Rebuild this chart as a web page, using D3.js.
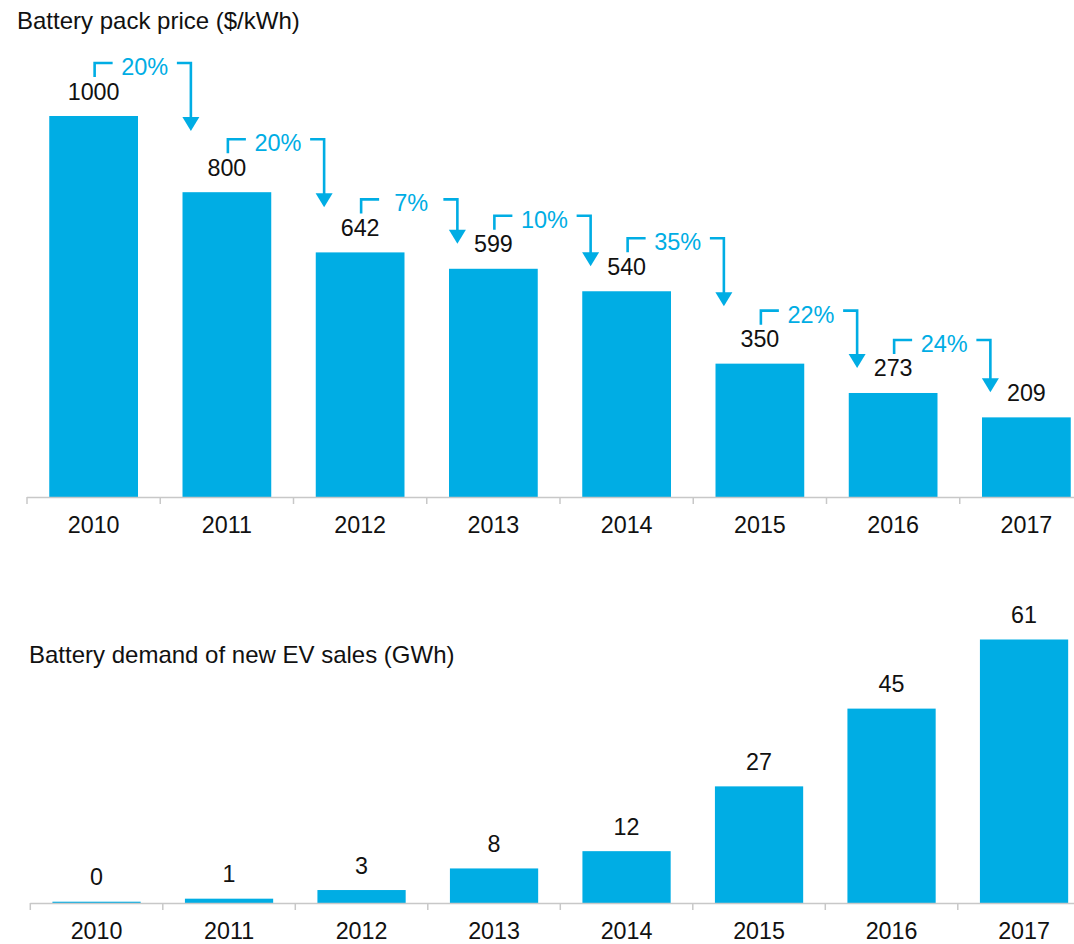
<!DOCTYPE html>
<html>
<head>
<meta charset="utf-8">
<script src="https://cdn.jsdelivr.net/npm/d3@7"></script>
<style>
  html, body { margin: 0; padding: 0; background: #fff; }
  svg { display: block; }
  text { font-family: "Liberation Sans", Arial, sans-serif; }
</style>
</head>
<body>
<svg id="chart" width="1074" height="944"></svg>
<script>
// ---- data ----
const years = ["2010", "2011", "2012", "2013", "2014", "2015", "2016", "2017"];
const packPrice = [1000, 800, 642, 599, 540, 350, 273, 209];
const priceDrop = ["20%", "20%", "7%", "10%", "35%", "22%", "24%"];
const evDemand = [0.3, 1, 3, 8, 12, 27, 45, 61];
const topTitle = "Battery pack price ($/kWh)";
const bottomTitle = "Battery demand of new EV sales (GWh)";

const BLUE = "#00ADE4";
const AXIS = "#C8C8C8";
const svg = d3.select("#chart");

function drawPanel(cfg) {
  const x = d3.scaleBand().domain(years).range(cfg.xr).paddingInner(0.334).paddingOuter(0.167);
  const y = d3.scaleLinear().domain(cfg.yd).range(cfg.yr);
  const g = svg.append("g");
  const base = cfg.yr[0];

  g.append("text").attr("x", cfg.titleX).attr("y", cfg.titleY)
    .attr("font-size", 24).attr("fill", "#111").text(cfg.title);

  g.selectAll("rect.bar").data(cfg.values).join("rect")
    .attr("class", "bar")
    .attr("x", (d, i) => x(years[i]))
    .attr("width", x.bandwidth())
    .attr("y", d => y(d))
    .attr("height", d => base - y(d))
    .attr("fill", BLUE);

  g.selectAll("text.val").data(cfg.values).join("text")
    .attr("class", "val")
    .attr("x", (d, i) => x(years[i]) + x.bandwidth() / 2)
    .attr("y", d => y(d) - 16.5)
    .attr("text-anchor", "middle")
    .attr("font-size", 23.3)
    .attr("fill", "#111")
    .text(d => d3.format(".0f")(d));

  // axis
  const gap = (x.step() - x.bandwidth()) / 2;
  const bounds = years.map(d => x(d) - gap).concat([x(years[years.length - 1]) + x.bandwidth() + gap]);
  g.append("line").attr("x1", bounds[0]).attr("x2", bounds[bounds.length - 1])
    .attr("y1", base + 0.5).attr("y2", base + 0.5).attr("stroke", AXIS).attr("stroke-width", 1.5);
  g.selectAll("line.tick").data(bounds).join("line")
    .attr("class", "tick")
    .attr("x1", d => d).attr("x2", d => d)
    .attr("y1", base).attr("y2", base + 7)
    .attr("stroke", AXIS).attr("stroke-width", 1.5);

  const ax = g.append("g").attr("transform", `translate(0,${base})`)
    .call(d3.axisBottom(x).tickSize(0).tickPadding(0));
  ax.select(".domain").remove();
  ax.selectAll("text").attr("font-size", 23.3).attr("fill", "#111")
    .attr("dy", null).attr("y", 36)
    .style("font-family", '"Liberation Sans", Arial, sans-serif');

  return { x, y };
}

// ---- top panel ----
const pricePanel = drawPanel({
  xr: [27, 1093], yd: [0, 1000], yr: [497, 116],
  values: packPrice, title: topTitle, titleX: 17, titleY: 29
});

// change brackets
const ann = svg.append("g");
priceDrop.forEach((pct, i) => {
  const x = pricePanel.x, y = pricePanel.y;
  const cx0 = x(years[i]) + x.bandwidth() / 2 + 1;
  const cx1 = x(years[i + 1]) + x.bandwidth() / 2 - 36;
  const topY = y(packPrice[i]) - 53;
  const tipY = Math.min(y(packPrice[i]) + 15, y(packPrice[i + 1]) - 25);
  const leftEnd = cx0 + 18, rightStart = cx1 - 14;
  ann.append("path")
    .attr("d", `M${cx0},${topY + 14}V${topY}H${leftEnd}`)
    .attr("fill", "none").attr("stroke", BLUE).attr("stroke-width", 2.6);
  ann.append("path")
    .attr("d", `M${rightStart},${topY}H${cx1}V${tipY - 13}`)
    .attr("fill", "none").attr("stroke", BLUE).attr("stroke-width", 2.6);
  ann.append("path")
    .attr("d", `M${cx1 - 8.5},${tipY - 14}L${cx1 + 8.5},${tipY - 14}L${cx1},${tipY}Z`)
    .attr("fill", BLUE);
  ann.append("text")
    .attr("x", (leftEnd + rightStart) / 2)
    .attr("y", topY + 12)
    .attr("text-anchor", "middle")
    .attr("font-size", 23.5)
    .attr("fill", BLUE)
    .text(pct);
});

// ---- bottom panel ----
drawPanel({
  xr: [30.3, 1090.3], yd: [0, 61], yr: [903, 639.5],
  values: evDemand, title: bottomTitle, titleX: 29, titleY: 663
});
</script>
</body>
</html>
